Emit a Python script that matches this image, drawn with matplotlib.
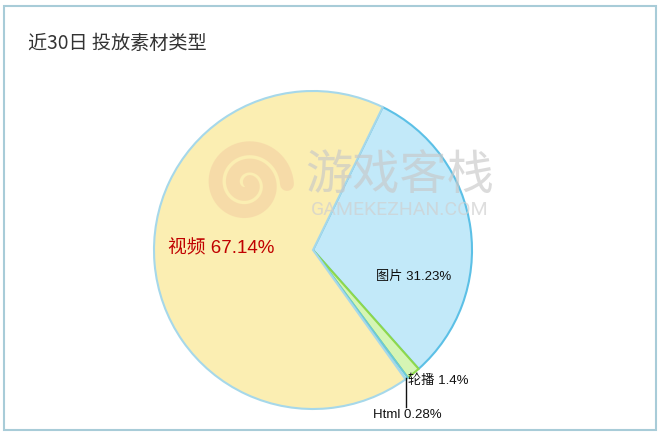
import numpy as np
import matplotlib
matplotlib.use("Agg")
import matplotlib.pyplot as plt
from matplotlib.patches import Rectangle

plt.rcParams['font.family'] = ['Noto Sans CJK SC', 'DejaVu Sans']
LBL = ['Liberation Sans', 'Noto Sans CJK SC', 'DejaVu Sans']

categories = ['图片', '轮播', 'Html', '视频']
values = [31.23, 1.4, 0.28, 67.14]
face_colors = ['#c2e9f9', '#d5f5b4', '#c9eef0', '#fbeeb2']
edge_colors = ['#5cc0e6', '#8ed84c', '#6cc9d8', '#a6d8ea']

W, H = 660, 436
fig = plt.figure(figsize=(W / 100, H / 100), dpi=100)
ax = fig.add_axes([0, 0, 1, 1])
ax.set_xlim(0, W)
ax.set_ylim(0, H)
ax.set_aspect('equal')
ax.axis('off')

# border
ax.add_patch(Rectangle((3.5, 6.5), 652, 423, fill=False, edgecolor='#a8ccd8', linewidth=1.5))

cx, cy, r = 313, H - 250, 159
wedges, _ = ax.pie(values, startangle=64, counterclock=False, center=(cx, cy), radius=r,
                   colors=face_colors, frame=True,
                   wedgeprops=dict(linewidth=1.5))
for w, ec in zip(wedges, edge_colors):
    w.set_edgecolor(ec)
ax.set_xlim(0, W)
ax.set_ylim(0, H)
ax.axis('off')

# watermark
t = np.linspace(0, 4.2 * np.pi, 300)
rr = 40 * (1 - t / (4.6 * np.pi))
ax.plot(247 + rr * np.cos(t), (H - 184) + rr * np.sin(t), color='#f3c9a0', lw=10, alpha=0.5,
        solid_capstyle='round')
ax.text(400, H - 176, '游戏客栈', fontsize=34, color='#c8c8c8', alpha=0.65, ha='center', va='center')
ax.text(400, H - 210, 'GAMEKEZHAN.COM', fontsize=14, color='#d0d0d0', alpha=0.7, ha='center', va='center',
        family=['Roboto', 'DejaVu Sans'])

# title
ax.text(28, H - 43, '近30日 投放素材类型', fontsize=13.8, color='#333333', ha='left', va='center')

# labels
ax.text(168, H - 249, f'{categories[3]} {values[3]:.2f}%', fontsize=13.5, color='#c00000',
        ha='left', va='center', family=LBL)
ax.text(376, H - 277, f'{categories[0]} {values[0]:.2f}%', fontsize=9.5, color='#111111',
        ha='left', va='center', family=LBL)
ax.text(408, H - 381, f'{categories[1]} {values[1]}%', fontsize=9.5, color='#111111',
        ha='left', va='center', family=LBL)
ax.text(373, H - 415, f'{categories[2]} {values[2]}%', fontsize=9.5, color='#111111',
        ha='left', va='center', family=LBL)
ax.plot([406, 406], [H - 378, H - 407], color='#111111', lw=1)

fig.savefig('out.png', dpi=100)
